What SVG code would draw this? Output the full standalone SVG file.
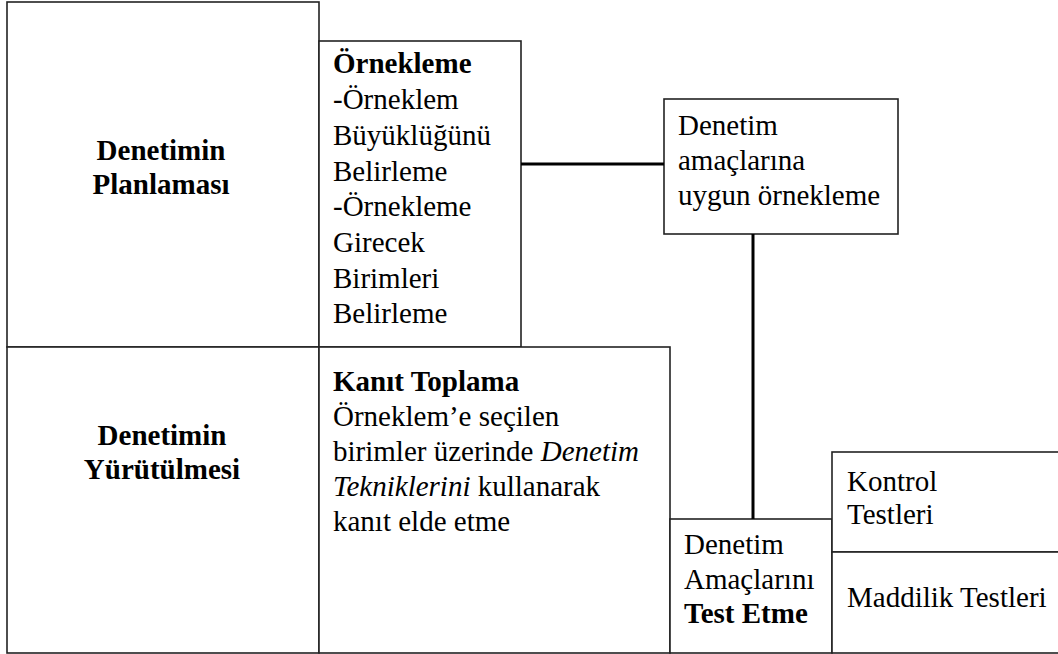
<svg xmlns="http://www.w3.org/2000/svg" width="1058" height="654" viewBox="0 0 1058 654">
<style>
  .box { fill: #fff; stroke: #222; stroke-width: 1.6; }
  text { font-family: 'Liberation Serif', Tinos, 'Times New Roman', Times, serif; font-size: 29px; fill: #000; }
  .b { font-weight: bold; }
  .c { text-anchor: middle; }
  .conn { stroke: #000; stroke-width: 3; fill: none; }
</style>
<rect width="1058" height="654" fill="#fff"/>
<g id="n1">
  <rect class="box" x="7" y="2" width="312" height="345"/>
  <text class="b c" x="161" y="160">Denetimin</text>
  <text class="b c" x="161" y="194">Planlaması</text>
</g>
<g id="n2">
  <rect class="box" x="319" y="41" width="202" height="306"/>
  <text class="b" x="333" y="73">Örnekleme</text>
  <text x="333" y="109">-Örneklem</text>
  <text x="333" y="145">Büyüklüğünü</text>
  <text x="333" y="181">Belirleme</text>
  <text x="333" y="216">-Örnekleme</text>
  <text x="333" y="252">Girecek</text>
  <text x="333" y="288">Birimleri</text>
  <text x="333" y="323">Belirleme</text>
</g>
<g id="n3">
  <rect class="box" x="664" y="99" width="234" height="135"/>
  <text x="678" y="135">Denetim</text>
  <text x="678" y="170">amaçlarına</text>
  <text x="678" y="205">uygun örnekleme</text>
</g>
<g id="n4">
  <rect class="box" x="7" y="347" width="312" height="306"/>
  <text class="b c" x="162" y="445">Denetimin</text>
  <text class="b c" x="162" y="479">Yürütülmesi</text>
</g>
<g id="n5">
  <rect class="box" x="319" y="347" width="351" height="306"/>
  <text class="b" x="333" y="391">Kanıt Toplama</text>
  <text x="333" y="426">Örneklem’e seçilen</text>
  <text x="333" y="461">birimler üzerinde <tspan font-style="italic">Denetim</tspan></text>
  <text x="333" y="496"><tspan font-style="italic">Tekniklerini</tspan> kullanarak</text>
  <text x="333" y="531">kanıt elde etme</text>
</g>
<g id="n6">
  <rect class="box" x="670" y="519" width="162" height="134"/>
  <text x="684" y="554">Denetim</text>
  <text x="684" y="589">Amaçlarını</text>
  <text class="b" x="684" y="623">Test Etme</text>
</g>
<g id="n7">
  <rect class="box" x="832" y="452" width="230" height="100"/>
  <text x="847" y="491">Kontrol</text>
  <text x="847" y="524">Testleri</text>
</g>
<g id="n8">
  <rect class="box" x="832" y="552" width="230" height="101"/>
  <text x="847" y="607">Maddilik Testleri</text>
</g>
<g id="connectors">
  <line class="conn" x1="521" y1="164" x2="664" y2="164"/>
  <line class="conn" x1="753" y1="234" x2="753" y2="519"/>
</g>
</svg>
